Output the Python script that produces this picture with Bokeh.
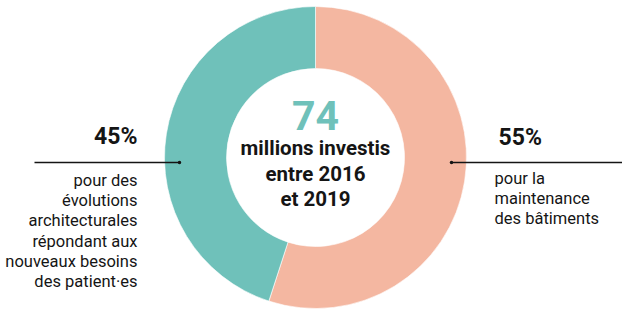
import numpy as np
from bokeh.plotting import figure
from bokeh.models import Range1d, ColumnDataSource
from bokeh.core.properties import value
from bokeh.embed import file_html
from bokeh.resources import INLINE

# ---- data ----
segments = ["maintenance", "evolutions"]
shares = [55, 45]
share_labels = ["55%", "45%"]
colors = ["#f4b7a1", "#6fc1ba"]
total_value = "74"
center_lines = ["millions investis", "entre 2016", "et 2019"]
left_lines = ["pour des", "évolutions", "architecturales", "répondant aux",
              "nouveaux besoins", "des patient·es"]
right_lines = ["pour la", "maintenance", "des bâtiments"]

# ---- layout (pixel-like units, y downward negated) ----
W, H = 622, 309
p = figure(width=W, height=H, output_backend="svg", toolbar_location=None,
           x_range=Range1d(0, W), y_range=Range1d(-H, 0),
           min_border=0, outline_line_color=None)
p.axis.visible = False
p.grid.visible = False
p.background_fill_color = "white"
p.border_fill_color = "white"

cx, cy = 315, -157
r_in, r_out = 89, 151

frac = np.array(shares, dtype=float) / sum(shares)
ends = np.pi / 2 - np.cumsum(frac) * 2 * np.pi
starts = np.concatenate([[np.pi / 2], ends[:-1]])
src = ColumnDataSource(dict(start=starts, end=ends, color=colors))
p.annular_wedge(x=cx, y=cy, inner_radius=r_in, outer_radius=r_out,
                start_angle="start", end_angle="end", direction="clock",
                fill_color="color", line_color="white", line_width=0.6,
                source=src)

ink = "#151515"
FONT = "Roboto"


def label(xs, baselines, texts, fs, align, bold=False, color=ink, font=FONT, k=0.3):
    ys = [-(b) + k * fs for b in baselines]
    p.text(x=xs, y=ys, text=texts, text_font=value(font),
           text_font_size=f"{fs}px", text_font_style="bold" if bold else "normal",
           text_color=color, text_align=align, text_baseline="alphabetic")


# center texts
label([cx], [127], [total_value], 41, "center", bold=True, color=colors[1])
label([cx] * 3, [154, 180, 205], center_lines, 20.5, "center", bold=True)

# leader lines
p.segment(x0=[34, 451], y0=[-162, -162], x1=[179, 622], y1=[-162, -162],
          line_color=ink, line_width=1.3)
p.scatter(x=[179, 451], y=[-162, -162], size=3.5, fill_color=ink, line_width=0)

# left label
label([137], [143], [share_labels[1]], 23, "right", bold=True)
label([137] * len(left_lines), [185, 205, 225, 245.5, 266, 286], left_lines, 16.5, "right")

# right label
label([498], [144], [share_labels[0]], 23, "left", bold=True)
label([494] * len(right_lines), [183, 203, 223], right_lines, 16.5, "left")

open("out.html", "w").write(file_html(p, INLINE))
